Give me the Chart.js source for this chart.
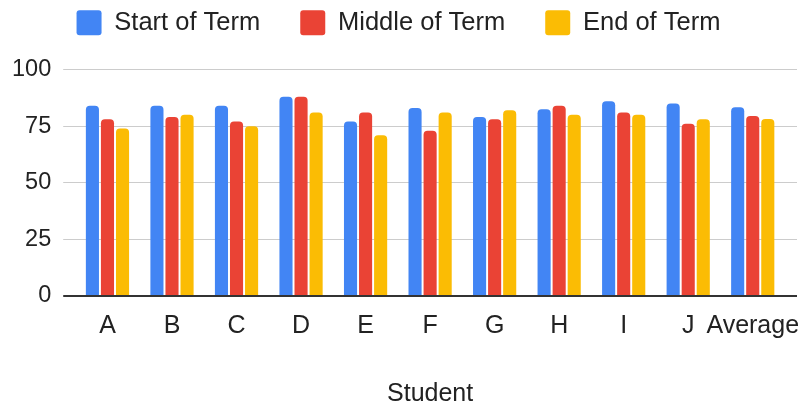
<!DOCTYPE html>
<html>
<head>
<meta charset="utf-8">
<script src="https://cdn.jsdelivr.net/npm/chart.js@4.4.1/dist/chart.umd.min.js"></script>
<style>
  html, body { margin: 0; padding: 0; background: #fff; }
  #wrap { width: 801px; height: 404px; }
</style>
</head>
<body>
<div id="wrap"><canvas id="myChart"></canvas></div>
<script>
const students = ['A', 'B', 'C', 'D', 'E', 'F', 'G', 'H', 'I', 'J', 'Average'];
const startOfTerm = [84, 84, 84, 88, 77, 83, 79, 82.5, 86, 85, 83.3];
const middleOfTerm = [78, 79, 77, 88, 81, 73, 78, 84, 81, 76, 79.5];
const endOfTerm = [74, 80, 75, 81, 71, 81, 82, 80, 80, 78, 78.2];
const yTicks = [0, 25, 50, 75, 100];

const fontFamily = '"Liberation Sans", Arial, sans-serif';
const gridColor = ctx => ctx.tick && ctx.tick.value === 0 ? '#333333' : '#cccccc';
const gridWidth = ctx => ctx.tick && ctx.tick.value === 0 ? 2 : 1;

function makeSet(label, data, color) {
  return {
    label: label,
    data: data,
    backgroundColor: color,
    borderWidth: 0,
    borderRadius: 4,
    borderSkipped: 'start',
    categoryPercentage: 0.7,
    barPercentage: 0.87
  };
}

const mydatasets = [
  makeSet('Start of Term', startOfTerm, '#4285F4'),
  makeSet('Middle of Term', middleOfTerm, '#EA4335'),
  makeSet('End of Term', endOfTerm, '#FBBC04')
];

const yBase = {
  min: yTicks[0],
  max: yTicks[yTicks.length - 1],
  border: { display: false },
  afterBuildTicks: axis => { axis.ticks = yTicks.map(v => ({ value: v })); }
};

new Chart(document.getElementById('myChart'), {
  type: 'bar',
  data: {
    labels: students,
    datasets: mydatasets
  },
  options: {
    responsive: true,
    maintainAspectRatio: false,
    animation: false,
    layout: {
      padding: { top: -30, right: 4, left: 0, bottom: -3 }
    },
    plugins: {
      legend: {
        position: 'top',
        labels: {
          boxWidth: 25,
          boxHeight: 25,
          padding: 40,
          useBorderRadius: true,
          borderRadius: 3,
          color: '#222222',
          font: { family: fontFamily, size: 25.5 }
        }
      },
      tooltip: { enabled: false }
    },
    scales: {
      x: {
        grid: { display: true, color: 'rgba(0,0,0,0)', drawOnChartArea: false, drawTicks: true, tickLength: 15 },
        border: { display: false },
        ticks: {
          color: '#222222',
          padding: 0,
          maxRotation: 0,
          autoSkip: false,
          font: { family: fontFamily, size: 25 }
        },
        title: {
          display: true,
          text: 'Student',
          color: '#222222',
          padding: { top: 41, bottom: 0 },
          font: { family: fontFamily, size: 25, lineHeight: 1 }
        }
      },
      xTop: {
        type: 'category',
        position: 'top',
        grid: { display: false, drawTicks: false },
        border: { display: false },
        ticks: { display: false },
        afterFit: scale => { scale.height = 24; }
      },
      y: {
        ...yBase,
        position: 'left',
        grid: { color: gridColor, lineWidth: gridWidth, tickLength: 12 },
        ticks: {
          color: '#222222',
          padding: 12,
          font: { family: fontFamily, size: 23.5 }
        }
      },
      y2: {
        ...yBase,
        position: 'right',
        grid: { color: gridColor, lineWidth: gridWidth, tickLength: 12, drawOnChartArea: false },
        ticks: { display: false }
      }
    }
  }
});
</script>
</body>
</html>
